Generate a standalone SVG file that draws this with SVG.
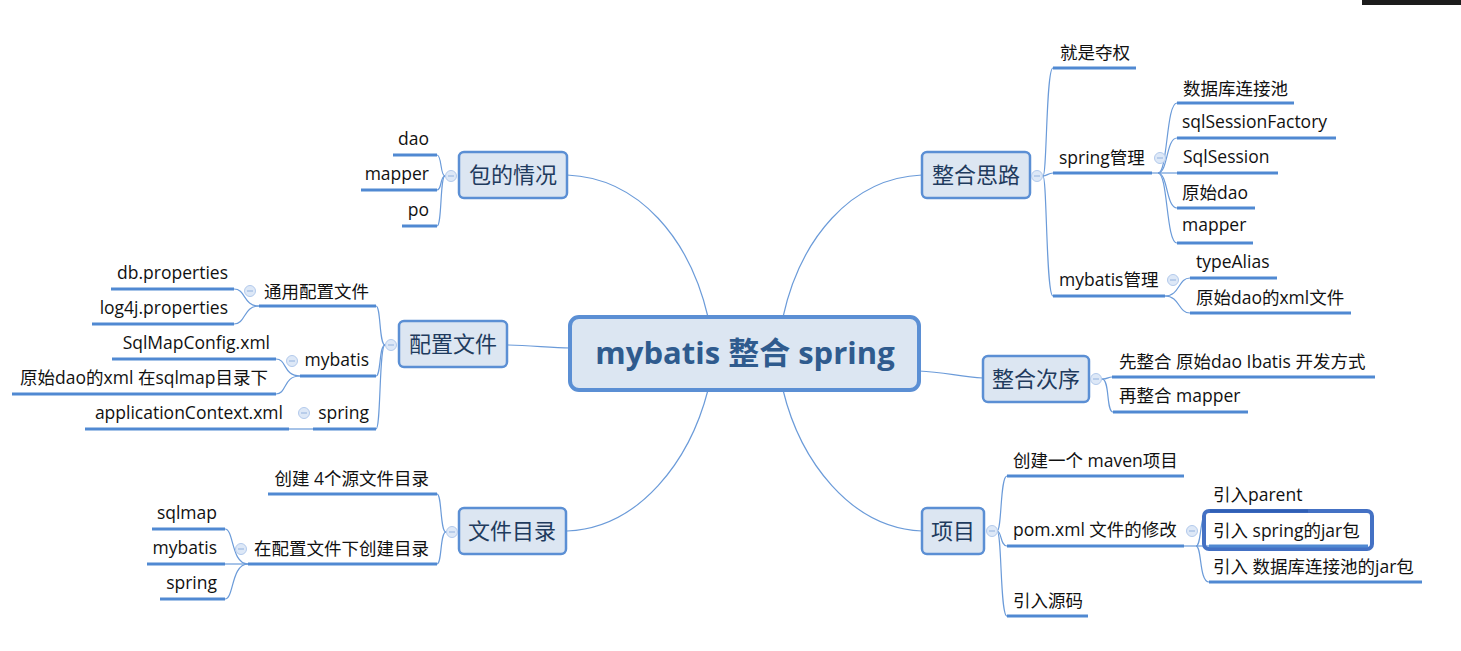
<svg xmlns="http://www.w3.org/2000/svg" width="1461" height="651" viewBox="0 0 1461 651">
<style>
text{font-family:"Open Sans","Noto Sans CJK SC",sans-serif;}
.leaf{font-size:17.5px;fill:#111;}
.end{text-anchor:end;}
.ul{stroke:#5089d2;stroke-width:3;fill:none;}
.con{stroke:#6b9bd9;stroke-width:1.2;fill:none;}
.box{fill:#dce6f2;stroke:#5b8fd4;stroke-width:2.5;}
.btxt{font-size:22px;fill:#1f3b5e;text-anchor:middle;}
.col{fill:#dde8f7;stroke:#b3caec;stroke-width:1;}
.colm{stroke:#93b2de;stroke-width:1;}
</style>
<rect x="1362" y="0" width="99" height="5" fill="#1c1c1c"/>
<g id="connectors">
<path class="con" d="M567,175 C640,178 690,240 708,317"/>
<path class="con" d="M567,531 C640,528 690,460 708,390"/>
<path class="con" d="M922,175 C850,178 800,240 783,317"/>
<path class="con" d="M922,531 C850,528 800,460 783,390"/>
<path class="con" d="M507,345 C530,345 550,348 570,348"/>
<path class="con" d="M919,371 C945,372 960,377 983,378"/>
<path class="con" d="M1043,176 C1047,176 1046,68 1053,68"/>
<path class="con" d="M1043,176 C1047,176 1048,173 1053,173"/>
<path class="con" d="M1043,176 C1047,176 1046,296 1053,296"/>
<path class="con" d="M1152,173 L1158,173"/>
<path class="con" d="M1158,173 C1168,173 1166,103 1177,103"/>
<path class="con" d="M1158,173 C1168,173 1166,138 1177,138"/>
<path class="con" d="M1158,173 L1177,173"/>
<path class="con" d="M1158,173 C1168,173 1166,208 1177,208"/>
<path class="con" d="M1158,173 C1168,173 1166,243 1177,243"/>
<path class="con" d="M1165,296 C1180,296 1178,278 1190,278"/>
<path class="con" d="M1165,296 C1180,296 1178,313 1190,313"/>
<path class="con" d="M1102,379 C1108,379 1108,377 1112,377"/>
<path class="con" d="M1102,379 C1110,379 1106,412 1113,412"/>
<path class="con" d="M997,531 C1002,531 1000,476 1007,476"/>
<path class="con" d="M997,531 C1002,531 1000,546 1007,546"/>
<path class="con" d="M997,531 C1002,531 1000,616 1007,616"/>
<path class="con" d="M1184,546 L1196,546"/>
<path class="con" d="M1196,546 C1202,546 1199,511 1209,511"/>
<path class="con" d="M1196,546 L1209,546"/>
<path class="con" d="M1196,546 C1202,546 1199,582 1209,582"/>
<path class="con" d="M445,176 C440,176 442,155 437,155"/>
<path class="con" d="M445,176 C440,176 442,190 437,190"/>
<path class="con" d="M445,176 C440,176 442,226 437,226"/>
<path class="con" d="M385,345 C379,345 381,306 376,306"/>
<path class="con" d="M385,345 C379,345 381,376 376,376"/>
<path class="con" d="M385,345 C379,345 381,429 376,429"/>
<path class="con" d="M259,306 C243,306 246,289 234,289"/>
<path class="con" d="M259,306 C243,306 246,324 234,324"/>
<path class="con" d="M300,376 C283,376 287,359 276,359"/>
<path class="con" d="M300,376 C283,376 287,394 276,394"/>
<path class="con" d="M313,429 L289,429"/>
<path class="con" d="M446,532 C440,532 442,494 437,494"/>
<path class="con" d="M446,532 C440,532 442,564 437,564"/>
<path class="con" d="M248,564 C231,564 234,529 225,529"/>
<path class="con" d="M248,564 L225,564"/>
<path class="con" d="M248,564 C231,564 234,599 225,599"/>
</g>
<g id="n-center">
<rect x="570" y="317" width="349" height="73" rx="9" fill="#dce6f2" stroke="#5b8fd4" stroke-width="4"/>
<text x="745" y="364" text-anchor="middle" font-size="31" font-weight="bold" fill="#2f5b8e">mybatis 整合 spring</text>
</g>
<g id="n-bdqk">
<rect class="box" x="459" y="152" width="108" height="46" rx="5"/>
<text class="btxt" x="513" y="183">包的情况</text>
<circle class="col" cx="451" cy="176" r="5.5"/><line class="colm" x1="448" y1="176" x2="454" y2="176"/>
</g>
<g id="l-dao"><text class="leaf end" x="429" y="145">dao</text><line class="ul" x1="393" y1="155" x2="437" y2="155"/></g>
<g id="l-mapper1"><text class="leaf end" x="429" y="180">mapper</text><line class="ul" x1="361" y1="190" x2="437" y2="190"/></g>
<g id="l-po"><text class="leaf end" x="429" y="216">po</text><line class="ul" x1="402" y1="226" x2="437" y2="226"/></g>
<g id="n-pzwj">
<rect class="box" x="399" y="321" width="108" height="46" rx="5"/>
<text class="btxt" x="453" y="352">配置文件</text>
<circle class="col" cx="391" cy="345" r="5.5"/><line class="colm" x1="388" y1="345" x2="394" y2="345"/>
</g>
<g id="l-typz"><text class="leaf end" x="369" y="298">通用配置文件</text><line class="ul" x1="259" y1="306" x2="376" y2="306"/>
<circle class="col" cx="250" cy="291" r="5.5"/><line class="colm" x1="247" y1="291" x2="253" y2="291"/></g>
<g id="l-dbp"><text class="leaf end" x="228" y="279">db.properties</text><line class="ul" x1="111" y1="289" x2="234" y2="289"/></g>
<g id="l-log4j"><text class="leaf end" x="228" y="314">log4j.properties</text><line class="ul" x1="92" y1="324" x2="234" y2="324"/></g>
<g id="l-mybatis1"><text class="leaf end" x="369" y="366">mybatis</text><line class="ul" x1="300" y1="376" x2="376" y2="376"/>
<circle class="col" cx="292" cy="361" r="5.5"/><line class="colm" x1="289" y1="361" x2="295" y2="361"/></g>
<g id="l-smc"><text class="leaf end" x="270" y="349">SqlMapConfig.xml</text><line class="ul" x1="112" y1="359" x2="276" y2="359"/></g>
<g id="l-ysdaoxml1"><text class="leaf end" x="268" y="384">原始dao的xml 在sqlmap目录下</text><line class="ul" x1="12" y1="394" x2="276" y2="394"/></g>
<g id="l-spring1"><text class="leaf end" x="369" y="419">spring</text><line class="ul" x1="313" y1="429" x2="376" y2="429"/>
<circle class="col" cx="304" cy="413" r="5.5"/><line class="colm" x1="301" y1="413" x2="307" y2="413"/></g>
<g id="l-appctx"><text class="leaf end" x="283" y="419">applicationContext.xml</text><line class="ul" x1="85" y1="429" x2="289" y2="429"/></g>
<g id="n-wjml">
<rect class="box" x="459" y="508" width="107" height="46" rx="5"/>
<text class="btxt" x="512" y="539">文件目录</text>
<circle class="col" cx="452" cy="532" r="5.5"/><line class="colm" x1="449" y1="532" x2="455" y2="532"/>
</g>
<g id="l-cj4"><text class="leaf end" x="429" y="485">创建 4个源文件目录</text><line class="ul" x1="268" y1="494" x2="437" y2="494"/></g>
<g id="l-zpz"><text class="leaf end" x="429" y="555">在配置文件下创建目录</text><line class="ul" x1="248" y1="564" x2="437" y2="564"/>
<circle class="col" cx="241" cy="549" r="5.5"/><line class="colm" x1="238" y1="549" x2="244" y2="549"/></g>
<g id="l-sqlmap"><text class="leaf end" x="217" y="519">sqlmap</text><line class="ul" x1="152" y1="529" x2="225" y2="529"/></g>
<g id="l-mybatis2"><text class="leaf end" x="217" y="554">mybatis</text><line class="ul" x1="147" y1="564" x2="225" y2="564"/></g>
<g id="l-spring2"><text class="leaf end" x="217" y="589">spring</text><line class="ul" x1="160" y1="599" x2="225" y2="599"/></g>
<g id="n-zhsl">
<rect class="box" x="922" y="152" width="108" height="46" rx="5"/>
<text class="btxt" x="976" y="183">整合思路</text>
<circle class="col" cx="1037" cy="176" r="5.5"/><line class="colm" x1="1034" y1="176" x2="1040" y2="176"/>
</g>
<g id="l-jsdq"><text class="leaf" x="1060" y="59">就是夺权</text><line class="ul" x1="1053" y1="68" x2="1136" y2="68"/></g>
<g id="l-springgl"><text class="leaf" x="1059" y="164">spring管理</text><line class="ul" x1="1053" y1="173" x2="1152" y2="173"/>
<circle class="col" cx="1160" cy="158" r="5.5"/><line class="colm" x1="1157" y1="158" x2="1163" y2="158"/></g>
<g id="l-sjk"><text class="leaf" x="1183" y="95">数据库连接池</text><line class="ul" x1="1177" y1="103" x2="1294" y2="103"/></g>
<g id="l-ssf"><text class="leaf" x="1182" y="128">sqlSessionFactory</text><line class="ul" x1="1177" y1="138" x2="1336" y2="138"/></g>
<g id="l-ss"><text class="leaf" x="1183" y="163">SqlSession</text><line class="ul" x1="1177" y1="173" x2="1278" y2="173"/></g>
<g id="l-ysdao"><text class="leaf" x="1182" y="199">原始dao</text><line class="ul" x1="1177" y1="208" x2="1255" y2="208"/></g>
<g id="l-mapper2"><text class="leaf" x="1182" y="231">mapper</text><line class="ul" x1="1177" y1="243" x2="1253" y2="243"/></g>
<g id="l-mybatisgl"><text class="leaf" x="1059" y="286">mybatis管理</text><line class="ul" x1="1053" y1="296" x2="1165" y2="296"/>
<circle class="col" cx="1173" cy="280" r="5.5"/><line class="colm" x1="1170" y1="280" x2="1176" y2="280"/></g>
<g id="l-typealias"><text class="leaf" x="1196" y="268">typeAlias</text><line class="ul" x1="1190" y1="278" x2="1277" y2="278"/></g>
<g id="l-ysdaoxml2"><text class="leaf" x="1196" y="304">原始dao的xml文件</text><line class="ul" x1="1190" y1="313" x2="1351" y2="313"/></g>
<g id="n-zhcx">
<rect class="box" x="983" y="356" width="106" height="46" rx="5"/>
<text class="btxt" x="1036" y="387">整合次序</text>
<circle class="col" cx="1096" cy="379" r="5.5"/><line class="colm" x1="1093" y1="379" x2="1099" y2="379"/>
</g>
<g id="l-xzh"><text class="leaf" x="1119" y="368">先整合 原始dao Ibatis 开发方式</text><line class="ul" x1="1112" y1="377" x2="1375" y2="377"/></g>
<g id="l-zzh"><text class="leaf" x="1119" y="402">再整合 mapper</text><line class="ul" x1="1113" y1="412" x2="1248" y2="412"/></g>
<g id="n-xm">
<rect class="box" x="922" y="508" width="62" height="46" rx="5"/>
<text class="btxt" x="953" y="539">项目</text>
<circle class="col" cx="992" cy="531" r="5.5"/><line class="colm" x1="989" y1="531" x2="995" y2="531"/>
</g>
<g id="l-cjmaven"><text class="leaf" x="1013" y="467">创建一个 maven项目</text><line class="ul" x1="1007" y1="476" x2="1184" y2="476"/></g>
<g id="l-pom"><text class="leaf" x="1013" y="536">pom.xml 文件的修改</text><line class="ul" x1="1007" y1="546" x2="1184" y2="546"/>
<circle class="col" cx="1192" cy="531" r="5.5"/><line class="colm" x1="1189" y1="531" x2="1195" y2="531"/></g>
<g id="l-parent"><text class="leaf" x="1213" y="501">引入parent</text></g>
<g id="l-springjar"><rect x="1204" y="511" width="168" height="38" rx="5" fill="none" stroke="#4471c4" stroke-width="4"/>
<line class="ul" x1="1209" y1="546" x2="1368" y2="546"/>
<text class="leaf" x="1213" y="537">引入 spring的jar包</text></g>
<line x1="1210" y1="511" x2="1308" y2="511" stroke="#2f5fb5" stroke-width="3"/>
<g id="l-sjkjar"><text class="leaf" x="1213" y="573">引入 数据库连接池的jar包</text><line class="ul" x1="1209" y1="582" x2="1422" y2="582"/></g>
<g id="l-yrym"><text class="leaf" x="1013" y="607">引入源码</text><line class="ul" x1="1007" y1="616" x2="1088" y2="616"/></g>
</svg>
